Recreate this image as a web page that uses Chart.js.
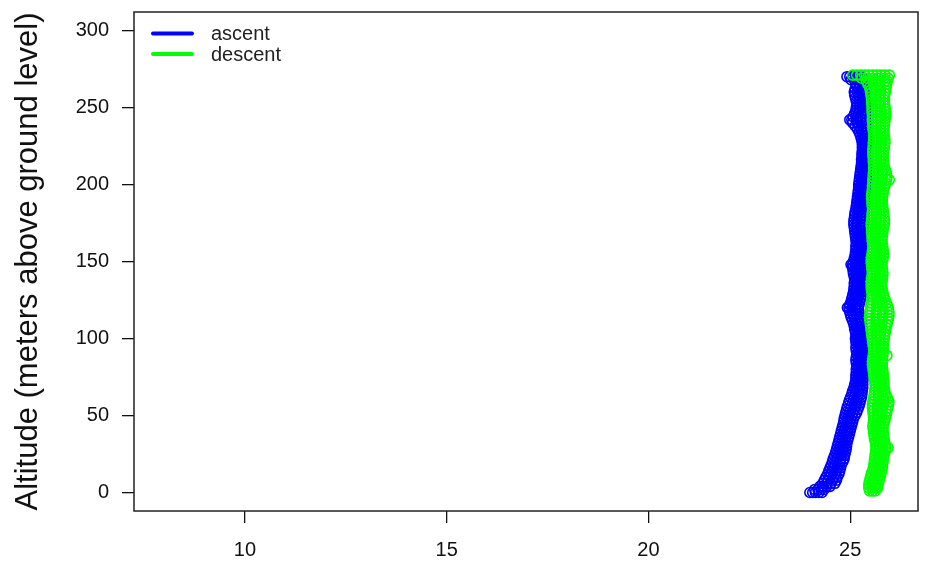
<!DOCTYPE html>
<html>
<head>
<meta charset="utf-8">
<script src="https://cdn.jsdelivr.net/npm/chart.js@4.4.1/dist/chart.umd.min.js"></script>
<style>
  html, body { margin: 0; padding: 0; background: #fff; }
  #wrap { width: 926px; height: 566px; }
</style>
</head>
<body>
<div id="wrap"><canvas id="profile" width="926" height="566"></canvas></div>
<script>
// altitude levels (m above ground) and the temperatures (deg C) logged at each level
const ascentAlt = [0, 2, 4, 6, 8, 10, 12, 14, 16, 18, 20, 22, 24, 26, 28, 30, 32, 34, 36, 38,
  40, 42, 44, 46, 48, 50, 52, 54, 56, 58, 60, 62, 64, 66, 68, 70, 72, 74, 76, 78,
  80, 82, 84, 86, 88, 90, 92, 94, 96, 98, 100, 102, 104, 106, 108, 110, 112, 114, 116, 118,
  120, 122, 124, 126, 128, 130, 132, 134, 136, 138, 140, 142, 144, 146, 148, 150, 152, 154, 156, 158,
  160, 162, 164, 166, 168, 170, 172, 174, 176, 178, 180, 182, 184, 186, 188, 190, 192, 194, 196, 198,
  200, 202, 204, 206, 208, 210, 212, 214, 216, 218, 220, 222, 224, 226, 228, 230, 232, 234, 236, 238,
  240, 242, 244, 246, 248, 250, 252, 254, 256, 258, 260, 262, 264, 266, 268, 270];
const ascentTemp = [
  [24.00, 24.07, 24.14, 24.22, 24.30], [24.12, 24.20, 24.28, 24.35], [24.25, 24.33, 24.42, 24.50], [24.32, 24.42, 24.52, 24.62],
  [24.36, 24.46, 24.57, 24.66], [24.40, 24.49, 24.59, 24.68], [24.44, 24.53, 24.63, 24.72], [24.47, 24.56, 24.65, 24.74],
  [24.50, 24.59, 24.68, 24.76], [24.53, 24.62, 24.70, 24.78], [24.56, 24.65, 24.74, 24.82], [24.58, 24.67, 24.77, 24.85],
  [24.61, 24.70, 24.78, 24.86], [24.64, 24.72, 24.80, 24.88], [24.66, 24.74, 24.82, 24.90], [24.68, 24.76, 24.84, 24.91],
  [24.70, 24.78, 24.85, 24.92], [24.72, 24.80, 24.87, 24.94], [24.74, 24.82, 24.89, 24.96], [24.76, 24.84, 24.91, 24.98],
  [24.78, 24.86, 24.93, 25.00], [24.80, 24.88, 24.95, 25.02], [24.82, 24.90, 24.97, 25.04], [24.84, 24.92, 24.99, 25.06],
  [24.85, 24.93, 25.01, 25.08], [24.87, 24.96, 25.04, 25.12], [24.89, 24.98, 25.07, 25.16], [24.91, 25.00, 25.10, 25.19],
  [24.93, 25.03, 25.13, 25.22], [24.96, 25.06, 25.15, 25.24], [24.98, 25.08, 25.17, 25.26], [25.01, 25.10, 25.19, 25.28],
  [25.04, 25.12, 25.21, 25.29], [25.06, 25.14, 25.22, 25.30], [25.09, 25.16, 25.24, 25.31], [25.11, 25.18, 25.25, 25.31],
  [25.13, 25.19, 25.25, 25.31], [25.14, 25.20, 25.26, 25.32], [25.14, 25.20, 25.26, 25.31], [25.15, 25.21, 25.26, 25.31],
  [25.15, 25.21, 25.27, 25.32], [25.16, 25.22, 25.27, 25.32], [25.15, 25.21, 25.26, 25.31], [25.14, 25.20, 25.26, 25.31],
  [25.15, 25.21, 25.27, 25.32], [25.16, 25.22, 25.27, 25.31], [25.15, 25.21, 25.26, 25.30], [25.14, 25.20, 25.25, 25.30],
  [25.15, 25.21, 25.26, 25.31], [25.14, 25.20, 25.26, 25.31], [25.13, 25.19, 25.25, 25.30], [25.14, 25.20, 25.25, 25.30],
  [25.13, 25.19, 25.24, 25.29], [25.11, 25.17, 25.23, 25.29], [25.10, 25.16, 25.22, 25.28], [25.08, 25.14, 25.21, 25.28],
  [25.05, 25.12, 25.19, 25.26], [25.02, 25.09, 25.17, 25.24], [25.00, 25.07, 25.15, 25.22], [24.98, 25.06, 25.14, 25.21],
  [24.93, 24.97, 25.05, 25.13, 25.20], [24.99, 25.07, 25.15, 25.22], [25.02, 25.09, 25.17, 25.24], [25.04, 25.11, 25.19, 25.26],
  [25.06, 25.13, 25.20, 25.27], [25.08, 25.14, 25.21, 25.28], [25.09, 25.15, 25.22, 25.28], [25.10, 25.16, 25.22, 25.28],
  [25.10, 25.16, 25.23, 25.29], [25.11, 25.17, 25.23, 25.29], [25.10, 25.16, 25.22, 25.28], [25.08, 25.15, 25.21, 25.27],
  [25.07, 25.14, 25.20, 25.27], [25.06, 25.13, 25.20, 25.26], [25.02, 25.06, 25.13, 25.20, 25.27], [25.08, 25.15, 25.22, 25.28],
  [25.10, 25.16, 25.23, 25.29], [25.12, 25.18, 25.24, 25.30], [25.13, 25.19, 25.25, 25.30], [25.14, 25.20, 25.25, 25.30],
  [25.14, 25.20, 25.26, 25.31], [25.15, 25.21, 25.26, 25.31], [25.14, 25.20, 25.26, 25.31], [25.13, 25.19, 25.25, 25.30],
  [25.12, 25.18, 25.25, 25.31], [25.11, 25.18, 25.25, 25.32], [25.10, 25.17, 25.25, 25.33], [25.09, 25.17, 25.25, 25.33],
  [25.09, 25.17, 25.26, 25.34], [25.10, 25.18, 25.26, 25.34], [25.11, 25.19, 25.27, 25.34], [25.12, 25.20, 25.28, 25.35],
  [25.14, 25.21, 25.29, 25.36], [25.15, 25.22, 25.29, 25.36], [25.16, 25.23, 25.30, 25.36], [25.17, 25.24, 25.30, 25.37],
  [25.18, 25.25, 25.31, 25.37], [25.19, 25.26, 25.32, 25.38], [25.20, 25.26, 25.32, 25.38], [25.21, 25.27, 25.33, 25.38],
  [25.21, 25.27, 25.33, 25.39], [25.22, 25.28, 25.34, 25.39], [25.23, 25.29, 25.34, 25.40], [25.24, 25.30, 25.35, 25.40],
  [25.25, 25.30, 25.35, 25.40], [25.26, 25.31, 25.36, 25.41], [25.27, 25.32, 25.37, 25.41], [25.28, 25.33, 25.37, 25.42],
  [25.28, 25.33, 25.38, 25.42], [25.29, 25.34, 25.38, 25.42], [25.29, 25.34, 25.39, 25.43], [25.30, 25.35, 25.39, 25.43],
  [25.30, 25.35, 25.40, 25.44], [25.30, 25.35, 25.40, 25.44], [25.29, 25.34, 25.39, 25.43], [25.27, 25.33, 25.38, 25.43],
  [25.25, 25.31, 25.37, 25.42], [25.22, 25.29, 25.36, 25.42], [25.18, 25.26, 25.34, 25.41], [25.12, 25.22, 25.32, 25.40],
  [25.06, 25.17, 25.28, 25.39], [24.99, 25.04, 25.15, 25.26, 25.38], [25.07, 25.17, 25.28, 25.38], [25.11, 25.20, 25.29, 25.38],
  [25.14, 25.22, 25.30, 25.38], [25.15, 25.23, 25.31, 25.39], [25.16, 25.24, 25.31, 25.39], [25.15, 25.23, 25.31, 25.39],
  [25.13, 25.22, 25.30, 25.38], [25.11, 25.20, 25.29, 25.38], [25.10, 25.19, 25.28, 25.37], [25.12, 25.21, 25.29, 25.38],
  [25.15, 25.23, 25.31, 25.39], [25.13, 25.21, 25.29, 25.37], [25.02, 25.11, 25.20, 25.29, 25.36],
  [24.92, 24.99, 25.06, 25.13, 25.20, 25.27]
];

const descentAlt = [1, 3, 5, 7, 9, 11, 13, 15, 17, 19, 21, 23, 25, 27, 29, 31, 33, 35, 37, 39,
  41, 43, 45, 47, 49, 51, 53, 55, 57, 59, 61, 63, 65, 67, 69, 71, 73, 75, 77, 79,
  81, 83, 85, 87, 89, 91, 93, 95, 97, 99, 101, 103, 105, 107, 109, 111, 113, 115, 117, 119,
  121, 123, 125, 127, 129, 131, 133, 135, 137, 139, 141, 143, 145, 147, 149, 151, 153, 155, 157, 159,
  161, 163, 165, 167, 169, 171, 173, 175, 177, 179, 181, 183, 185, 187, 189, 191, 193, 195, 197, 199,
  201, 203, 205, 207, 209, 211, 213, 215, 217, 219, 221, 223, 225, 227, 229, 231, 233, 235, 237, 239,
  241, 243, 245, 247, 249, 251, 253, 255, 257, 259, 261, 263, 265, 267, 269, 271];
const descentTemp = [
  [25.48, 25.55, 25.62], [25.46, 25.54, 25.62, 25.68], [25.46, 25.54, 25.62, 25.69], [25.47, 25.56, 25.64, 25.71],
  [25.49, 25.58, 25.66, 25.73], [25.51, 25.60, 25.68, 25.75], [25.53, 25.62, 25.70, 25.77], [25.56, 25.64, 25.72, 25.79],
  [25.58, 25.66, 25.73, 25.80], [25.59, 25.67, 25.74, 25.81], [25.60, 25.68, 25.75, 25.82], [25.61, 25.69, 25.76, 25.83],
  [25.62, 25.70, 25.78, 25.85], [25.63, 25.71, 25.79, 25.87], [25.64, 25.72, 25.80, 25.88, 25.94], [25.63, 25.71, 25.79, 25.87],
  [25.62, 25.70, 25.78, 25.85], [25.60, 25.68, 25.76, 25.84], [25.59, 25.67, 25.75, 25.83], [25.58, 25.66, 25.74, 25.82],
  [25.57, 25.65, 25.73, 25.81], [25.56, 25.65, 25.73, 25.82], [25.57, 25.66, 25.75, 25.84], [25.58, 25.67, 25.76, 25.86],
  [25.58, 25.68, 25.78, 25.88], [25.57, 25.68, 25.79, 25.90], [25.56, 25.67, 25.79, 25.91], [25.55, 25.67, 25.80, 25.93],
  [25.55, 25.68, 25.82, 25.95], [25.56, 25.69, 25.83, 25.96], [25.58, 25.70, 25.82, 25.93], [25.59, 25.70, 25.80, 25.89],
  [25.60, 25.70, 25.79, 25.86], [25.61, 25.70, 25.78, 25.85], [25.62, 25.70, 25.77, 25.84], [25.61, 25.69, 25.77, 25.84],
  [25.60, 25.68, 25.76, 25.83], [25.59, 25.67, 25.75, 25.82], [25.58, 25.66, 25.74, 25.82], [25.57, 25.65, 25.73, 25.81],
  [25.56, 25.64, 25.72, 25.80], [25.55, 25.64, 25.72, 25.80], [25.55, 25.63, 25.71, 25.79], [25.56, 25.64, 25.72, 25.80],
  [25.57, 25.65, 25.73, 25.81, 25.91], [25.58, 25.66, 25.74, 25.82], [25.58, 25.66, 25.74, 25.82], [25.57, 25.65, 25.74, 25.82],
  [25.56, 25.65, 25.74, 25.83], [25.55, 25.64, 25.74, 25.84], [25.54, 25.64, 25.75, 25.85], [25.53, 25.64, 25.75, 25.86],
  [25.52, 25.64, 25.76, 25.88], [25.51, 25.64, 25.77, 25.89], [25.50, 25.64, 25.78, 25.91], [25.49, 25.64, 25.79, 25.93],
  [25.48, 25.64, 25.80, 25.95], [25.48, 25.64, 25.80, 25.96], [25.49, 25.65, 25.81, 25.96], [25.50, 25.66, 25.81, 25.95],
  [25.51, 25.66, 25.80, 25.93], [25.52, 25.66, 25.79, 25.90], [25.53, 25.65, 25.77, 25.87], [25.54, 25.65, 25.75, 25.84],
  [25.54, 25.64, 25.74, 25.82], [25.53, 25.63, 25.72, 25.80], [25.52, 25.62, 25.71, 25.79], [25.52, 25.62, 25.70, 25.78],
  [25.52, 25.62, 25.71, 25.79], [25.53, 25.63, 25.72, 25.80], [25.54, 25.64, 25.73, 25.81], [25.55, 25.64, 25.73, 25.81],
  [25.54, 25.63, 25.72, 25.80], [25.53, 25.62, 25.71, 25.79], [25.52, 25.62, 25.71, 25.79], [25.52, 25.62, 25.72, 25.81],
  [25.53, 25.63, 25.73, 25.82], [25.54, 25.64, 25.74, 25.83], [25.55, 25.65, 25.74, 25.82], [25.56, 25.65, 25.73, 25.81],
  [25.56, 25.64, 25.72, 25.80], [25.55, 25.63, 25.71, 25.79], [25.54, 25.63, 25.71, 25.79], [25.54, 25.63, 25.72, 25.80],
  [25.53, 25.63, 25.72, 25.81], [25.53, 25.63, 25.73, 25.82], [25.52, 25.63, 25.74, 25.84], [25.52, 25.64, 25.75, 25.85],
  [25.53, 25.64, 25.75, 25.85], [25.54, 25.65, 25.75, 25.84], [25.54, 25.65, 25.74, 25.83], [25.55, 25.65, 25.74, 25.82],
  [25.55, 25.64, 25.73, 25.81], [25.54, 25.63, 25.72, 25.80], [25.54, 25.63, 25.72, 25.80], [25.53, 25.63, 25.72, 25.80],
  [25.53, 25.63, 25.72, 25.81], [25.54, 25.64, 25.73, 25.82], [25.55, 25.65, 25.75, 25.84], [25.55, 25.66, 25.76, 25.86],
  [25.56, 25.67, 25.78, 25.88], [25.56, 25.68, 25.79, 25.90, 25.97], [25.57, 25.69, 25.80, 25.91], [25.57, 25.69, 25.80, 25.90],
  [25.58, 25.69, 25.79, 25.88], [25.58, 25.68, 25.77, 25.85], [25.58, 25.67, 25.76, 25.84], [25.57, 25.66, 25.75, 25.83],
  [25.57, 25.66, 25.74, 25.82], [25.56, 25.65, 25.74, 25.82], [25.56, 25.65, 25.74, 25.83], [25.56, 25.66, 25.75, 25.84],
  [25.57, 25.67, 25.76, 25.85], [25.57, 25.67, 25.77, 25.86], [25.58, 25.68, 25.77, 25.86], [25.58, 25.68, 25.77, 25.85],
  [25.58, 25.67, 25.76, 25.84], [25.57, 25.66, 25.75, 25.84], [25.56, 25.66, 25.75, 25.84], [25.56, 25.66, 25.76, 25.85],
  [25.55, 25.66, 25.76, 25.86], [25.55, 25.66, 25.77, 25.87], [25.55, 25.66, 25.77, 25.88], [25.54, 25.66, 25.77, 25.88],
  [25.54, 25.65, 25.76, 25.87], [25.54, 25.65, 25.75, 25.86], [25.53, 25.64, 25.74, 25.85], [25.53, 25.63, 25.74, 25.84],
  [25.52, 25.63, 25.74, 25.85], [25.51, 25.62, 25.74, 25.86], [25.50, 25.62, 25.75, 25.88], [25.48, 25.61, 25.75, 25.89],
  [25.44, 25.58, 25.73, 25.90], [25.40, 25.55, 25.70, 25.85, 25.92], [25.28, 25.42, 25.56, 25.70, 25.84, 25.94],
  [25.06, 25.16, 25.26, 25.36, 25.46, 25.56, 25.66, 25.76, 25.86, 25.97]
];

const xTicks = [10, 15, 20, 25];
const yTicks = [0, 50, 100, 150, 200, 250, 300];
const seriesNames = ['ascent', 'descent'];
const seriesColors = ['#0000ff', '#00ff00'];

const FONT = "'Liberation Sans', Arial, Helvetica, sans-serif";

function toPoints(alts, temps) {
  const pts = [];
  alts.forEach((a, i) => temps[i].forEach(t => pts.push({ x: t, y: a })));
  return pts;
}

// closed box around the plot region
const boxPlugin = {
  id: 'box',
  afterDraw(chart) {
    const { ctx, chartArea: a } = chart;
    ctx.save();
    ctx.strokeStyle = '#222';
    ctx.lineWidth = 1.5;
    ctx.strokeRect(a.left, a.top, a.right - a.left, a.bottom - a.top);
    ctx.restore();
  }
};

// legend with line keys, top-left inside the box
const lineLegend = {
  id: 'lineLegend',
  afterDraw(chart) {
    const { ctx, chartArea: a } = chart;
    ctx.save();
    ctx.font = '20px ' + FONT;
    ctx.textBaseline = 'middle';
    seriesNames.forEach((name, i) => {
      const y = a.top + 21.5 + i * 20.5;
      ctx.strokeStyle = seriesColors[i];
      ctx.lineWidth = 4;
      ctx.lineCap = 'round';
      ctx.beginPath();
      ctx.moveTo(a.left + 19, y);
      ctx.lineTo(a.left + 58, y);
      ctx.stroke();
      ctx.fillStyle = '#222';
      ctx.fillText(name, a.left + 77, y + 1);
    });
    ctx.restore();
  }
};

new Chart(document.getElementById('profile').getContext('2d'), {
  type: 'scatter',
  data: {
    datasets: [
      {
        label: seriesNames[0],
        data: toPoints(ascentAlt, ascentTemp),
        borderColor: seriesColors[0],
        backgroundColor: 'rgba(0,0,0,0)',
        pointRadius: 5,
        pointBorderWidth: 1.6,
        order: 2
      },
      {
        label: seriesNames[1],
        data: toPoints(descentAlt, descentTemp),
        borderColor: seriesColors[1],
        backgroundColor: 'rgba(0,0,0,0)',
        pointRadius: 5,
        pointBorderWidth: 1.6,
        order: 1
      }
    ]
  },
  options: {
    responsive: false,
    devicePixelRatio: 1,
    animation: false,
    events: [],
    layout: { padding: { top: 12, right: 8, left: 0, bottom: 0 } },
    plugins: {
      legend: { display: false },
      tooltip: { enabled: false }
    },
    scales: {
      x: {
        type: 'linear',
        min: 7.25,
        max: 26.68,
        afterBuildTicks: s => { s.ticks = xTicks.map(v => ({ value: v })); },
        afterFit: s => { s.height = 55; s.paddingLeft = 0; s.paddingRight = 0; },
        border: { display: false },
        grid: { drawOnChartArea: false, drawTicks: true, tickLength: 12, color: '#111', lineWidth: 1.3 },
        ticks: { color: '#111', font: { family: FONT, size: 20 }, padding: 15, maxRotation: 0 }
      },
      y: {
        type: 'linear',
        min: -12,
        max: 312,
        afterBuildTicks: s => { s.ticks = yTicks.map(v => ({ value: v })); },
        afterFit: s => { s.width = 134; s.paddingTop = 0; s.paddingBottom = 0; },
        border: { display: false },
        grid: { drawOnChartArea: false, drawTicks: true, tickLength: 12, color: '#111', lineWidth: 1.3 },
        ticks: { color: '#111', font: { family: FONT, size: 20 }, padding: 13 },
        title: {
          display: true,
          text: 'Altitude (meters above ground level)',
          color: '#111',
          font: { family: FONT, size: 31 },
          padding: { top: 10, bottom: 0 }
        }
      }
    }
  },
  plugins: [boxPlugin, lineLegend]
});
</script>
</body>
</html>
